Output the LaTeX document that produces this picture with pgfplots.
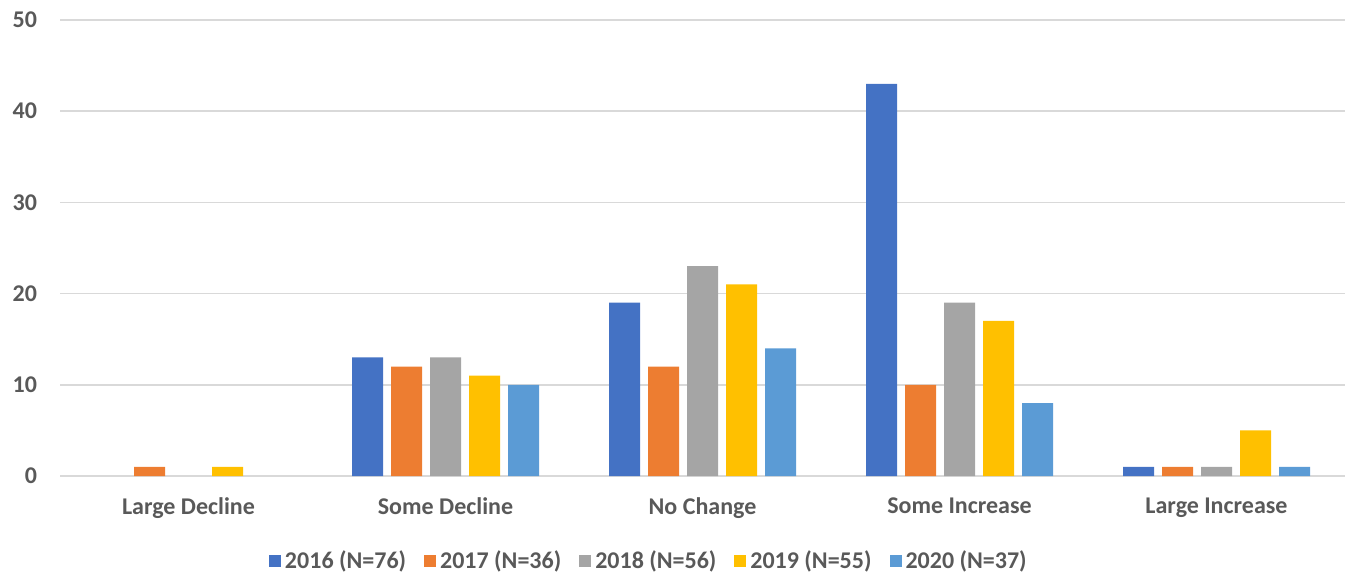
\documentclass[border=0pt]{standalone}
\usepackage{pgfplots}
\pgfplotsset{compat=1.18}
\usepackage{fontspec}
\setmainfont{Carlito}

\definecolor{c16}{HTML}{4472C4}
\definecolor{c17}{HTML}{ED7D31}
\definecolor{c18}{HTML}{A5A5A5}
\definecolor{c19}{HTML}{FFC000}
\definecolor{c20}{HTML}{5B9BD5}
\definecolor{txt}{HTML}{595959}
\definecolor{gridc}{HTML}{D9D9D9}

\begin{document}
\begin{tikzpicture}
\useasboundingbox (-30pt,-48.5pt) rectangle (646.5pt,238pt);
\begin{axis}[
  at={(0,0)}, anchor=south west,
  scale only axis, width=642.5pt, height=228pt,
  ybar=4pt, bar width=15.5pt,
  xmin=-0.5, xmax=4.5, ymin=0, ymax=50,
  xtick={0,1,2,3,4},
  xticklabels={Large Decline,Some Decline,No Change,Some Increase,Large Increase},
  ytick={0,10,20,30,40,50},
  axis line style={draw=none},
  major tick length=0pt,
  ymajorgrids, grid style={gridc, line width=0.75pt},
  tick label style={font=\fontsize{12}{14}\selectfont\bfseries, text=txt},
  /pgf/number format/assume math mode=true,
  yticklabel style={xshift=-8pt},
  xticklabel style={yshift=-7.5pt},
  legend columns=5,
  legend cell align=left,
  legend style={draw=none, fill=none, at={(0.459,-0.186)}, anchor=center,
    font=\fontsize{12}{14}\selectfont\bfseries, text=txt,
    /tikz/every even column/.append style={column sep=7pt},
    /tikz/every odd column/.append style={column sep=0pt}},
  legend image code/.code={\fill[#1] (0pt,-3pt) rectangle (6pt,3pt);},
]
% zero counts are left out so no hairline bar is drawn
\addplot[fill=c16, draw=none] coordinates {(1,13) (2,19) (3,43) (4,1)};
\addplot[fill=c17, draw=none] coordinates {(0,1) (1,12) (2,12) (3,10) (4,1)};
\addplot[fill=c18, draw=none] coordinates {(1,13) (2,23) (3,19) (4,1)};
\addplot[fill=c19, draw=none] coordinates {(0,1) (1,11) (2,21) (3,17) (4,5)};
\addplot[fill=c20, draw=none] coordinates {(1,10) (2,14) (3,8) (4,1)};
\legend{2016 (N=76),2017 (N=36),2018 (N=56),2019 (N=55),2020 (N=37)}
\end{axis}
\end{tikzpicture}
\end{document}
